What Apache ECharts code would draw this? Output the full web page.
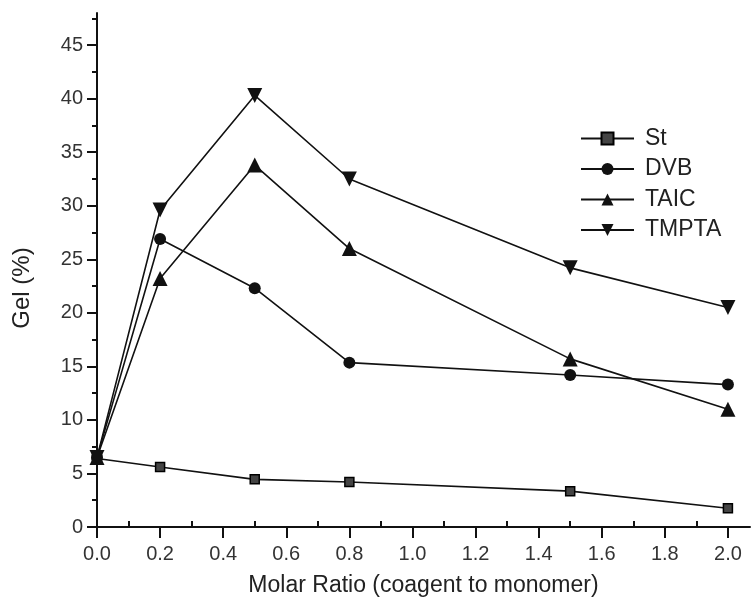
<!DOCTYPE html>
<html>
<head>
<meta charset="utf-8">
<script src="https://cdn.jsdelivr.net/npm/echarts@6/dist/echarts.min.js"></script>
<style>
html, body { margin: 0; padding: 0; background: #fff; }
#gel-chart { width: 753px; height: 605px; }
</style>
</head>
<body>
<div id="gel-chart"></div>
<script>
var RATIOS = [0.0, 0.2, 0.5, 0.8, 1.5, 2.0];
var ST = [6.4, 5.6, 4.45, 4.2, 3.35, 1.75];
var DVB = [6.5, 26.9, 22.3, 15.35, 14.2, 13.3];
var TAIC = [6.5, 23.2, 33.8, 26.0, 15.7, 11.0];
var TMPTA = [6.5, 29.6, 40.3, 32.5, 24.2, 20.5];

var X_TICKS = [0, 0.2, 0.4, 0.6, 0.8, 1.0, 1.2, 1.4, 1.6, 1.8, 2.0];
var X_MINOR = [0.1, 0.3, 0.5, 0.7, 0.9, 1.1, 1.3, 1.5, 1.7, 1.9];
var Y_TICKS = [0, 5, 10, 15, 20, 25, 30, 35, 40, 45];
var Y_MINOR = [2.5, 7.5, 12.5, 17.5, 22.5, 27.5, 32.5, 37.5, 42.5, 47.5];

var FONT = 'Liberation Sans';

function pairs(xs, ys) {
    var out = [];
    for (var i = 0; i < xs.length; i++) {
        out.push([xs[i], ys[i]]);
    }
    return out;
}

function makeSeries(name, values, symbol, size, extra) {
    var s = {
        name: name,
        type: 'line',
        data: pairs(RATIOS, values),
        symbol: symbol,
        symbolSize: size,
        lineStyle: { color: '#111', width: 1.6 },
        itemStyle: { color: '#111' },
        emphasis: { disabled: true },
        animation: false
    };
    for (var k in extra) s[k] = extra[k];
    return s;
}

function generateGelChart() {
    var chart = echarts.init(document.getElementById('gel-chart'));
    var baseX = {
        type: 'value', min: 0, max: 2.07,
        axisLine: { show: true, onZero: false, lineStyle: { color: '#111', width: 2 } },
        splitLine: { show: false }
    };
    var baseY = {
        type: 'value', min: 0, max: 48,
        axisLine: { show: true, onZero: false, lineStyle: { color: '#111', width: 2 } },
        splitLine: { show: false }
    };
    var option = {
        backgroundColor: '#fff',
        grid: { left: 97, right: 3, top: 13, bottom: 78 },
        legend: {
            orient: 'vertical',
            left: 575,
            top: 122,
            itemWidth: 53,
            itemHeight: 15,
            itemGap: 7.5,
            textStyle: { fontFamily: FONT, fontSize: 23, color: '#222', padding: [0, 0, 0, 6] },
            data: ['St', 'DVB', 'TAIC', 'TMPTA']
        },
        xAxis: [
            Object.assign({}, baseX, {
                name: 'Molar Ratio (coagent to monomer)',
                nameLocation: 'middle',
                nameGap: 47,
                nameTextStyle: { fontFamily: FONT, fontSize: 23, color: '#222' },
                axisTick: { show: true, length: 11, customValues: X_TICKS, lineStyle: { color: '#111', width: 2 } },
                axisLabel: {
                    customValues: X_TICKS, margin: 17,
                    fontFamily: FONT, fontSize: 20, color: '#333',
                    formatter: function(v) { return v.toFixed(1); }
                }
            }),
            Object.assign({}, baseX, {
                axisLine: { show: false },
                axisTick: { show: true, length: 6, customValues: X_MINOR, lineStyle: { color: '#111', width: 2 } },
                axisLabel: { show: false }
            })
        ],
        yAxis: [
            Object.assign({}, baseY, {
                name: 'Gel (%)',
                nameLocation: 'middle',
                nameGap: 63,
                nameTextStyle: { fontFamily: FONT, fontSize: 24, color: '#222', padding: [0, 36, 0, 0] },
                axisTick: { show: true, length: 10, customValues: Y_TICKS, lineStyle: { color: '#111', width: 2 } },
                axisLabel: {
                    customValues: Y_TICKS, margin: 14,
                    fontFamily: FONT, fontSize: 20, color: '#333'
                }
            }),
            Object.assign({}, baseY, {
                position: 'left',
                axisLine: { show: false },
                axisTick: { show: true, length: 5, customValues: Y_MINOR, lineStyle: { color: '#111', width: 2 } },
                axisLabel: { show: false }
            })
        ],
        series: [
            makeSeries('St', ST, 'rect', 9, {
                itemStyle: { color: '#444', borderColor: '#000', borderWidth: 1.5 }
            }),
            makeSeries('DVB', DVB, 'circle', 12, {}),
            makeSeries('TAIC', TAIC, 'triangle', 15, {}),
            makeSeries('TMPTA', TMPTA, 'triangle', 15, { symbolRotate: 180 })
        ]
    };
    chart.setOption(option);
}

generateGelChart();
</script>
</body>
</html>
